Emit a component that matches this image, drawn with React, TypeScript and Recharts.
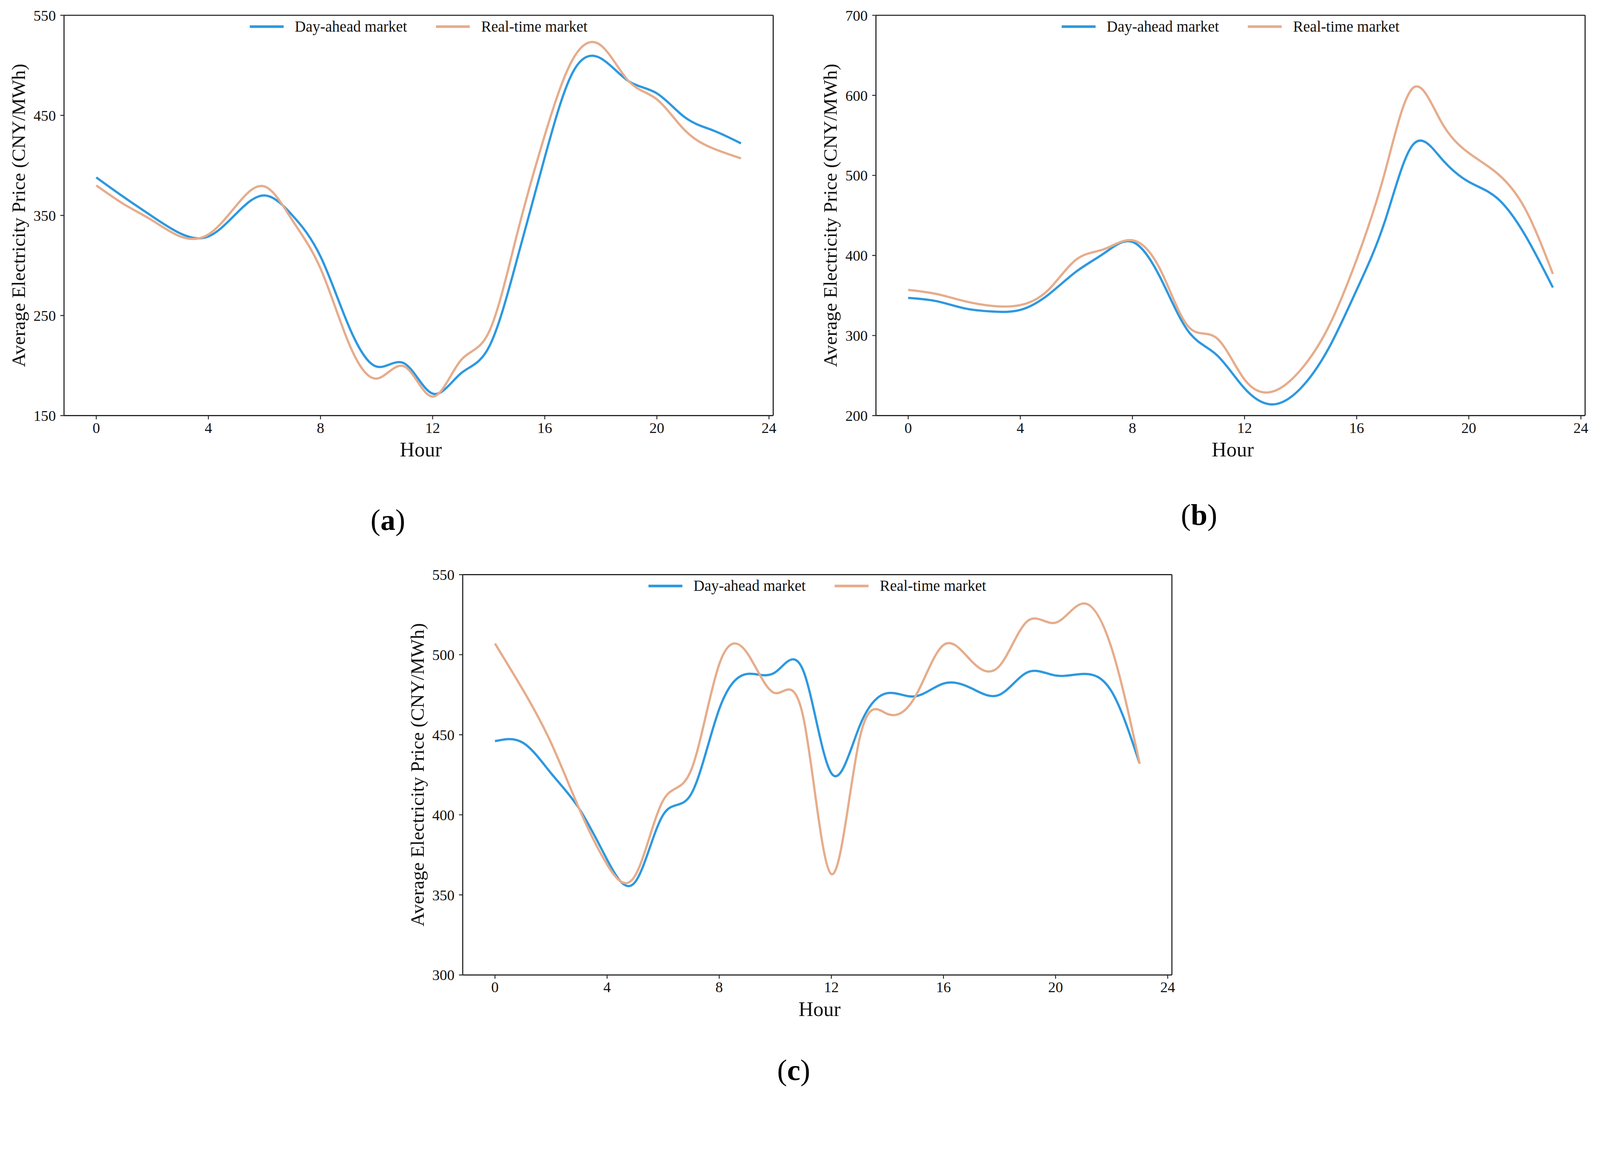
import { LineChart, Line, XAxis, YAxis, Legend, ReferenceLine } from 'recharts';

const hours = [0, 1, 2, 3, 4, 5, 6, 7, 8, 9, 10, 11, 12, 13, 14, 15, 16, 17, 18, 19, 20, 21, 22, 23];
const hourTicks = [0, 4, 8, 12, 16, 20, 24];

// (a)
const aDayAhead = [388, 368, 349, 332, 329, 352, 370, 350, 309, 240, 199, 202, 172, 192, 218, 305, 408, 493, 507, 484, 472, 448, 435, 422];
const aRealTime = [380, 361, 345, 329, 331, 360, 379, 345, 297, 223, 187, 199, 169, 205, 233, 330, 430, 506, 520, 484, 466, 435, 417, 407];
const aTicks = [150, 250, 350, 450, 550];

// (b)
const bDayAhead = [347, 343, 334, 330, 332, 351, 380, 403, 417, 372, 305, 276, 234, 214, 234, 284, 357, 442, 538, 522, 492, 472, 426, 360];
const bRealTime = [357, 352, 343, 337, 338, 357, 395, 408, 419, 382, 311, 297, 245, 230, 257, 311, 395, 503, 609, 568, 528, 503, 459, 377];
const bTicks = [200, 300, 400, 500, 600, 700];

// (c)
const cDayAhead = [446, 445, 426, 404, 372, 358, 400, 413, 466, 488, 489, 490, 426, 455, 476, 474, 482, 479, 475, 489, 487, 488, 477, 432];
const cRealTime = [507, 478, 445, 404, 369, 362, 409, 428, 494, 501, 476, 461, 363, 447, 463, 474, 506, 496, 493, 521, 520, 532, 504, 432];
const cTicks = [300, 350, 400, 450, 500, 550];

const seriesNames = ['Day-ahead market', 'Real-time market'];
const COLORS = ['#2D98DF', '#E6AC8B'];

const FONT = "'Liberation Serif', 'Times New Roman', serif";
const AXIS = '#262626';

const PAGE_W = 4298;
const PAGE_H = 2948;

const PLOT_W = 1905;
const PLOT_H = 1075;
const M_LEFT = 62;
const Y_W = 110;
const M_TOP = 41;
const M_RIGHT = 25;
const X_H = 140;
const X_MIN = -1.15;
const X_MAX = 24.15;

const XTitle = ({ viewBox }: any) => {
  const { x, y, width } = viewBox;
  return (
    <text x={x + width / 2 + 6} y={y + 110} textAnchor="middle" fontSize={55} fontFamily={FONT} fill="#111">
      Hour
    </text>
  );
};

const YTitle = ({ viewBox }: any) => {
  const { x, y, width, height } = viewBox;
  const cx = x + width - 105;
  const cy = y + height / 2;
  return (
    <text x={cx} y={cy} transform={`rotate(-90 ${cx} ${cy})`} textAnchor="middle" fontSize={52} fontFamily={FONT} fill="#111">
      Average Electricity Price (CNY/MWh)
    </text>
  );
};

const LegendBox = ({ payload }: any) => {
  const items = payload && payload.length ? payload : seriesNames.map((n, i) => ({ value: n, color: COLORS[i] }));
  return (
    <div style={{ display: 'flex', justifyContent: 'center', alignItems: 'center', height: 50 }}>
      {items.map((it: any, i: number) => (
        <div key={it.value} style={{ display: 'flex', alignItems: 'center', marginLeft: i ? 78 : 0 }}>
          <div style={{ width: 91, height: 7, background: it.color, marginRight: 30 }} />
          <span style={{ fontFamily: FONT, fontSize: 41, color: '#111', lineHeight: '50px' }}>{it.value}</span>
        </div>
      ))}
    </div>
  );
};

interface PanelProps {
  dayAhead: number[];
  realTime: number[];
  yTicks: number[];
  left: number;
  top: number;
}

const Panel = ({ dayAhead, realTime, yTicks, left, top }: PanelProps) => {
  const rows = hours.map((hour, i) => ({ hour, dayAhead: dayAhead[i], realTime: realTime[i] }));
  const yMin = yTicks[0];
  const yMax = yTicks[yTicks.length - 1];
  const tick = { fontSize: 40, fill: '#111', fontFamily: FONT };
  return (
    <div style={{ position: 'absolute', left, top }}>
      <LineChart
        width={M_LEFT + Y_W + PLOT_W + M_RIGHT}
        height={M_TOP + PLOT_H + X_H}
        data={rows}
        margin={{ top: M_TOP, right: M_RIGHT, bottom: 0, left: M_LEFT }}
      >
        <XAxis
          dataKey="hour"
          type="number"
          domain={[X_MIN, X_MAX]}
          ticks={hourTicks}
          allowDataOverflow
          height={X_H}
          tickSize={10}
          tickMargin={8}
          axisLine={{ stroke: AXIS, strokeWidth: 3 }}
          tickLine={{ stroke: AXIS, strokeWidth: 2.5 }}
          tick={tick}
          label={<XTitle />}
        />
        <YAxis
          type="number"
          domain={[yMin, yMax]}
          ticks={yTicks}
          allowDataOverflow
          width={Y_W}
          tickSize={10}
          tickMargin={12}
          axisLine={{ stroke: AXIS, strokeWidth: 3 }}
          tickLine={{ stroke: AXIS, strokeWidth: 2.5 }}
          tick={tick}
          label={<YTitle />}
        />
        {/* top and right spines */}
        <ReferenceLine y={yMax} stroke={AXIS} strokeWidth={3} />
        <ReferenceLine x={X_MAX} stroke={AXIS} strokeWidth={3} />
        <Legend
          layout="horizontal"
          verticalAlign="middle"
          align="center"
          content={<LegendBox />}
          wrapperStyle={{ top: M_TOP + 5, left: M_LEFT + Y_W, width: PLOT_W, height: 50 }}
        />
        <Line name={seriesNames[0]} dataKey="dayAhead" type="natural" stroke={COLORS[0]} strokeWidth={6} dot={false} isAnimationActive={false} />
        <Line name={seriesNames[1]} dataKey="realTime" type="natural" stroke={COLORS[1]} strokeWidth={6} dot={false} isAnimationActive={false} />
      </LineChart>
    </div>
  );
};

const Caption = ({ x, y, letter }: { x: number; y: number; letter: string }) => (
  <text x={x} y={y} textAnchor="middle" fontSize={80} fontFamily={FONT} fill="#000">
    (<tspan fontWeight="bold">{letter}</tspan>)
  </text>
);

export default function App() {
  // fit the fixed-size page into whatever CSS width the window really has
  const s = typeof window !== 'undefined' && window.innerWidth ? Math.min(1, window.innerWidth / PAGE_W) : 1;
  return (
    <div
      style={{
        position: 'absolute',
        left: 0,
        top: 0,
        width: PAGE_W,
        height: PAGE_H,
        background: '#fff',
        overflow: 'hidden',
        transform: `scale(${s})`,
        transformOrigin: '0 0',
      }}
    >
      <Panel dayAhead={aDayAhead} realTime={aRealTime} yTicks={aTicks} left={0} top={0} />
      <Panel dayAhead={bDayAhead} realTime={bRealTime} yTicks={bTicks} left={2181} top={0} />
      <Panel dayAhead={cDayAhead} realTime={cRealTime} yTicks={cTicks} left={1071} top={1502} />
      <svg width={PAGE_W} height={PAGE_H} style={{ position: 'absolute', left: 0, top: 0, pointerEvents: 'none' }}>
        <Caption x={1042} y={1423} letter="a" />
        <Caption x={3221} y={1409} letter="b" />
        <Caption x={2132} y={2900} letter="c" />
      </svg>
    </div>
  );
}
